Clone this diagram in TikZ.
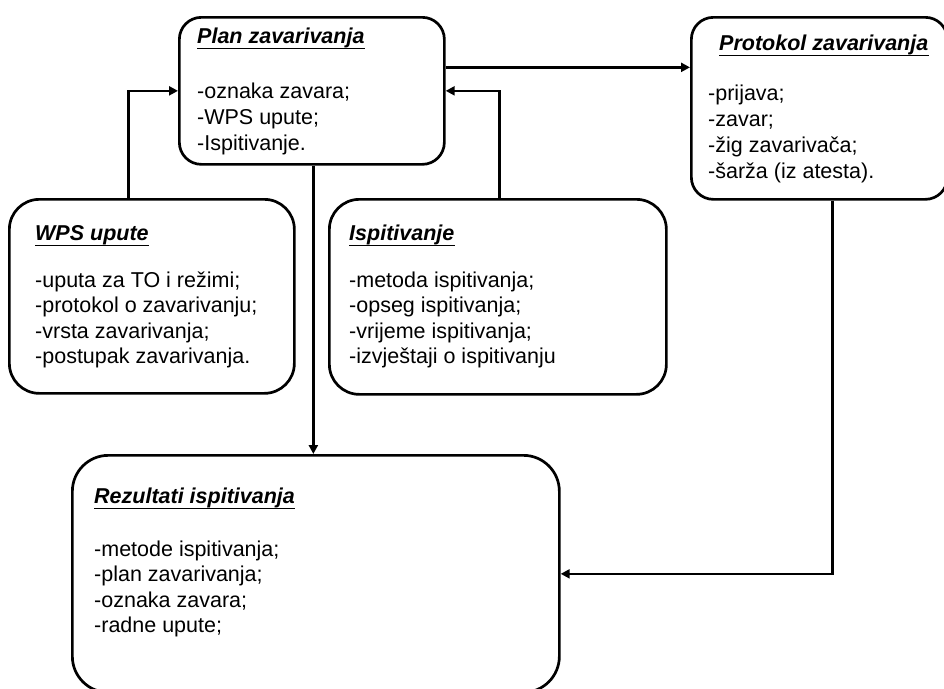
\documentclass[tikz,border=0pt]{standalone}
\usepackage{fontspec}
\setmainfont{Liberation Sans}
\usetikzlibrary{arrows.meta}
\begin{document}
\begin{tikzpicture}[x=1pt,y=-1pt,
  box/.style={draw, line width=2.7pt, rounded corners=#1, inner sep=0pt, anchor=north west},
  txt/.style={anchor=base west, inner sep=0pt, font=\fontsize{21.5}{26}\selectfont},
  ttl/.style={anchor=base west, inner sep=0pt, font=\fontsize{21.5}{26}\selectfont\bfseries\itshape},
  uline/.style={line width=1.8pt},
  conn/.style={line width=2.7pt, -{Triangle[length=9pt,width=9pt]}}]
\useasboundingbox (0,0) rectangle (944,688);

% boxes
\node[box=22pt, minimum width=265pt, minimum height=147pt] (plan) at (178,16) {};
\node[box=22pt, minimum width=256pt, minimum height=182pt] (prot) at (690,16) {};
\node[box=30pt, minimum width=285pt, minimum height=194pt] (wps) at (8,198) {};
\node[box=30pt, minimum width=337pt, minimum height=195pt] (isp) at (328,198) {};
\node[box=36pt, minimum width=487pt, minimum height=237pt] (rez) at (71,454) {};

% Plan zavarivanja
\node[ttl] (t1) at (197,43) {Plan zavarivanja};
\draw[uline] ([yshift=-5.5pt]t1.base west) -- ([yshift=-5.5pt]t1.base east);
\node[txt] (p1) at (197,98) {-oznaka zavara;};
\node[txt] (p2) at (197,124) {-WPS upute;};
\node[txt] (p3) at (197,150) {-Ispitivanje.};

% Protokol zavarivanja
\node[ttl] (t2) at (719,50) {Protokol zavarivanja};
\draw[uline] ([yshift=-5.5pt]t2.base west) -- ([yshift=-5.5pt]t2.base east);
\node[txt] (r1) at (708,100) {-prijava;};
\node[txt] (r2) at (708,126) {-zavar;};
\node[txt] (r3) at (708,152) {-žig zavarivača;};
\node[txt] (r4) at (708,178) {-šarža (iz atesta).};

% WPS upute
\node[ttl] (t3) at (35,240) {WPS upute};
\draw[uline] ([yshift=-5.5pt]t3.base west) -- ([yshift=-5.5pt]t3.base east);
\node[txt] (w1) at (35,287) {-uputa za TO i režimi;};
\node[txt] (w2) at (35,312.5) {-protokol o zavarivanju;};
\node[txt] (w3) at (35,338) {-vrsta zavarivanja;};
\node[txt] (w4) at (35,363.5) {-postupak zavarivanja.};

% Ispitivanje
\node[ttl] (t4) at (349,240) {Ispitivanje};
\draw[uline] ([yshift=-5.5pt]t4.base west) -- ([yshift=-5.5pt]t4.base east);
\node[txt] (i1) at (349,287) {-metoda ispitivanja;};
\node[txt] (i2) at (349,312.5) {-opseg ispitivanja;};
\node[txt] (i3) at (349,338) {-vrijeme ispitivanja;};
\node[txt] (i4) at (349,363.5) {-izvještaji o ispitivanju};

% Rezultati ispitivanja
\node[ttl] (t5) at (94,503) {Rezultati ispitivanja};
\draw[uline] ([yshift=-5.5pt]t5.base west) -- ([yshift=-5.5pt]t5.base east);
\node[txt] (z1) at (94,556) {-metode ispitivanja;};
\node[txt] (z2) at (94,581.5) {-plan zavarivanja;};
\node[txt] (z3) at (94,607) {-oznaka zavara;};
\node[txt] (z4) at (94,632.5) {-radne upute;};

% connectors
\draw[conn] ([xshift=-23.5pt]wps.north) |- (plan.west);
\draw[conn] ([xshift=1.5pt]isp.north) |- (plan.east);
\draw[conn] ([yshift=23.5pt]plan.east) -- ([yshift=23.5pt]plan.east -| prot.west);
\draw[conn] ([xshift=1.5pt]plan.south) -- ([xshift=1.5pt]plan.south |- rez.north);
\draw[conn] ([xshift=13pt]prot.south) |- (rez.east);
\end{tikzpicture}
\end{document}
